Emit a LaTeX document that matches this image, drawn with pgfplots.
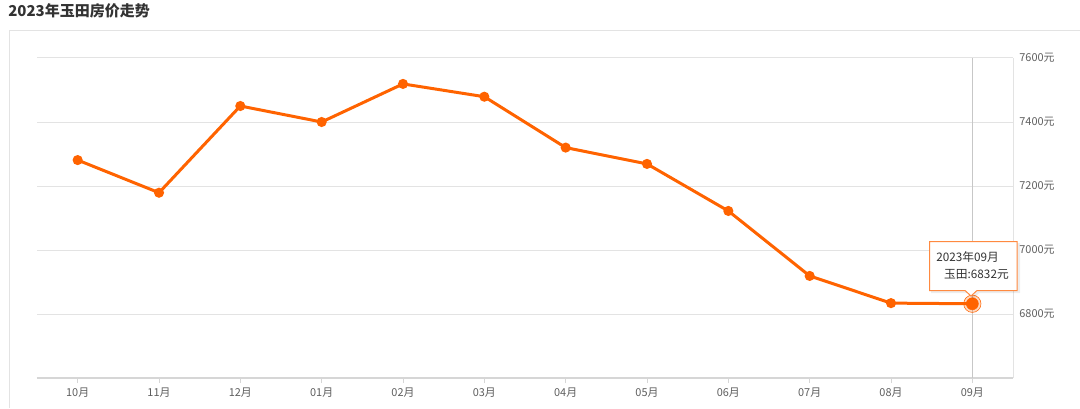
\documentclass[border=0pt]{standalone}
\usepackage{pgfplots}
\pgfplotsset{compat=1.18}
\usepackage{fontspec}
\setmainfont{Noto Sans CJK SC}
\definecolor{lineorange}{HTML}{FF6300}
\definecolor{gridgray}{HTML}{E3E3E3}
\definecolor{axisgray}{HTML}{D6D6D6}
\definecolor{labelgray}{HTML}{5E5E5E}
\definecolor{textdark}{HTML}{333333}

\begin{document}
\begin{tikzpicture}
\path[use as bounding box] (0pt,0pt) rectangle (810pt,306pt);

\begin{axis}[
  at={(27.75pt,22.5pt)}, anchor=south west, scale only axis,
  width=732pt, height=240pt,
  xmin=-0.5, xmax=11.5, ymin=6600, ymax=7600,
  axis x line*=bottom, axis y line*=right,
  x axis line style={-, draw=axisgray, line width=1.5pt},
  y axis line style={-, draw=gridgray, line width=0.75pt},
  xtick={0,...,11},
  xticklabels={10月,11月,12月,01月,02月,03月,04月,05月,06月,07月,08月,09月},
  ytick={6800,7000,7200,7400,7600},
  yticklabels={6800元,7000元,7200元,7400元,7600元},
  yticklabel pos=right,
  tick align=outside, major tick length=3.75pt,
  xtick style={draw=axisgray, line width=0.75pt},
  ytick style={draw=none},
  ymajorgrids, major grid style={draw=gridgray, line width=0.75pt},
  ticklabel style={font=\fontsize{8.2}{10}\selectfont, text=labelgray},
  yticklabel style={anchor=west, xshift=-2.5pt},
  clip=false,
]
\addplot[black!22, line width=0.75pt, forget plot] coordinates {(11,6600) (11,7600)};
\addplot[lineorange, line width=2.25pt, mark=*, mark size=2.6pt,
  mark options={fill=lineorange, draw=none}] coordinates {
  (0,7281) (1,7179) (2,7450) (3,7400) (4,7519) (5,7479)
  (6,7320) (7,7269) (8,7122) (9,6919) (10,6834) (11,6832)};
\addplot[lineorange, only marks, mark=*, mark size=6.5pt,
  mark options={fill=lineorange, fill opacity=0.25, draw=none}] coordinates {(11,6832)};
\addplot[lineorange, only marks, mark=*, mark size=4.5pt,
  mark options={fill=lineorange, draw=none}] coordinates {(11,6832)};
\end{axis}

% decorations in image pixels, y downward
\begin{scope}[shift={(0pt,306pt)}, x=0.75pt, y=-0.75pt]
\node[anchor=west, font=\bfseries\fontsize{11.25}{13}\selectfont, text=textdark, inner sep=0] at (8,11) {2023年玉田房价走势};
\draw[gridgray, line width=0.75pt] (9.5,408) -- (9.5,30.5) -- (1080,30.5);
% tooltip
\fill[black, opacity=0.07] (931,243) -- (1020,243) -- (1020,293) -- (979,293) -- (973,299) -- (967,293) -- (931,293) -- cycle;
\draw[lineorange!75, fill=white, line width=0.75pt] (929.5,241.5) -- (1017,241.5) -- (1017,290.5) -- (977,290.5) -- (971,296) -- (965,290.5) -- (929.5,290.5) -- cycle;
\node[anchor=west, inner sep=0, text=textdark, font=\fontsize{8.8}{10}\selectfont] at (936,257) {2023年09月};
\node[anchor=east, inner sep=0, text=textdark, font=\fontsize{8.8}{10}\selectfont] at (1009,274) {玉田:6832元};
\end{scope}
\end{tikzpicture}
\end{document}
